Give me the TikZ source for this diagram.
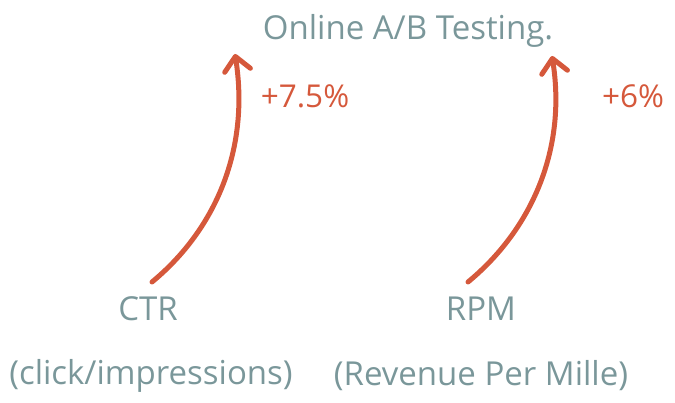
\documentclass[tikz,border=0pt]{standalone}
\usepackage{fontspec}
\setmainfont{Open Sans}
\usetikzlibrary{arrows.meta}
\definecolor{txtgray}{HTML}{7A979A}
\definecolor{arrred}{HTML}{D5583B}
\tikzset{
  lbl/.style={text=txtgray, inner sep=0pt, font=\fontsize{33}{38}\selectfont},
  pct/.style={text=arrred, inner sep=0pt, font=\fontsize{31.5}{36}\selectfont},
  growth/.style={draw=arrred, line width=5pt, line cap=round,
    -{Straight Barb[length=14pt,width=26pt,round]}}
}
\begin{document}
\begin{tikzpicture}[x=1pt,y=-1pt]
\path[use as bounding box] (0,0) rectangle (675,403);
\node[lbl] (title) at (408,31) {Online A/B Testing.};
\node[pct] (p1) at (305,96) {+7.5\%};
\node[pct] (p2) at (633,96) {+6\%};
\node[lbl] (ctr) at (148,309) {CTR};
\node[lbl] (rpm) at (481,309) {RPM};
\node[lbl] (ctrd) at (151,376) {(click/impressions)};
\node[lbl] (rpmd) at (481,376) {(Revenue Per Mille)};
\coordinate (s1) at (152,282);
\coordinate (e1) at (235,54);
\coordinate (s2) at (468,282);
\coordinate (e2) at (552,56);
\draw[growth] (s1) .. controls (215,230) and (250,150) .. (e1);
\draw[growth] (s2) .. controls (531,230) and (567,150) .. (e2);
\end{tikzpicture}
\end{document}
